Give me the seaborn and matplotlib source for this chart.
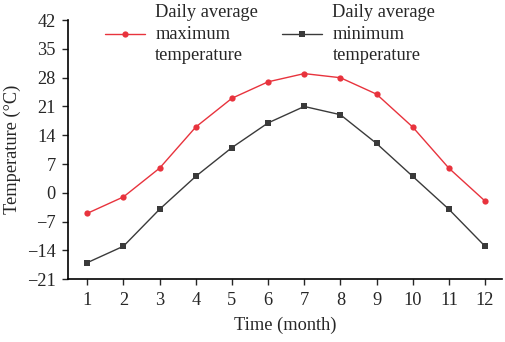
import numpy as np
import pandas as pd
import matplotlib
matplotlib.use("Agg")
import matplotlib.pyplot as plt
import seaborn as sns

# ----------------------------- Data -----------------------------
months = [1, 2, 3, 4, 5, 6, 7, 8, 9, 10, 11, 12]
t_max = [-5, -1, 6, 16, 23, 27, 29, 28, 24, 16, 6, -2]
t_min = [-17, -13, -4, 4, 11, 17, 21, 19, 12, 4, -4, -13]
series_names = ["Daily average\nmaximum\ntemperature",
                "Daily average\nminimum\ntemperature"]
y_ticks = [-21, -14, -7, 0, 7, 14, 21, 28, 35, 42]

df = pd.DataFrame({
    "month": months * 2,
    "temp": t_max + t_min,
    "series": [series_names[0]] * len(months) + [series_names[1]] * len(months),
})

sns.set_theme(style="ticks")
plt.rcParams['font.family'] = ['Liberation Serif', 'DejaVu Serif']

fig = plt.figure(figsize=(5.05, 3.42), dpi=100)
ax = fig.add_axes([0.135, 0.184, 0.859, 0.757])

sns.lineplot(data=df, x="month", y="temp", hue="series", style="series",
             palette=["#e8333d", "#3a3a3a"], markers=["o", "s"], dashes=False,
             markersize=4.5, markeredgewidth=0, linewidth=1.0, ax=ax)

fs = 13.2
ax.set_xlim(0.47, 12.47)
ax.set_ylim(-21, 42)
ax.set_xticks(months)
ax.set_yticks(y_ticks)
ax.tick_params(labelsize=fs, length=4, width=1, direction="out", pad=5)
ax.set_xlabel("Time (month)", fontsize=fs, labelpad=6)
ax.set_ylabel("Temperature (\u00b0C)", fontsize=fs, labelpad=4)
for s in ["top", "right"]:
    ax.spines[s].set_visible(False)
for s in ["left", "bottom"]:
    ax.spines[s].set_linewidth(1.2)
    ax.spines[s].set_color("black")

leg = ax.legend(ncol=2, loc="upper left", bbox_to_anchor=(0.055, 1.112), frameon=False,
                fontsize=fs, handlelength=2.2, handletextpad=0.55, columnspacing=1.3,
                labelspacing=0.1, borderpad=0.2)
for t in leg.get_texts():
    t.set_linespacing(1.35)

fig.savefig("out.png", dpi=100)
